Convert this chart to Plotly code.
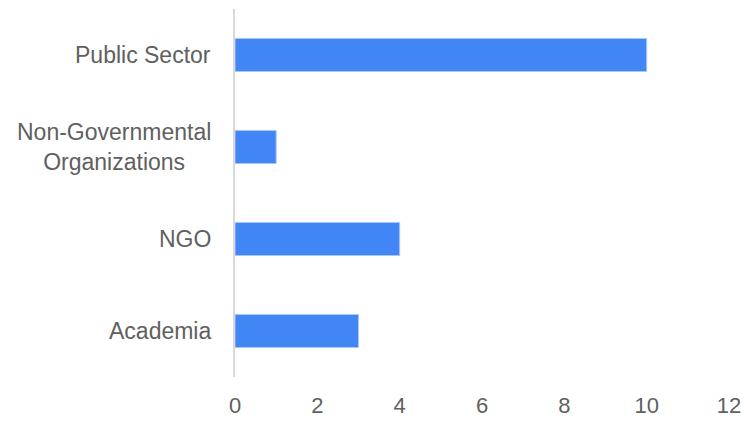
import plotly.graph_objects as go

categories = ["Public Sector", "Non-Governmental<br>Organizations", "NGO", "Academia"]
values = [10, 1, 4, 3]
x_ticks = [0, 2, 4, 6, 8, 10, 12]

FONT = "Liberation Sans, Arial, sans-serif"
TXT = "#606060"

fig = go.Figure()
fig.add_trace(go.Bar(
    y=categories, x=values, orientation="h",
    marker=dict(color="#4285F4", line=dict(color="#a8c7fa", width=1)),
    width=0.36,
))

for c in categories:
    fig.add_annotation(
        x=0, xref="paper", y=c, yref="y", text=c, showarrow=False,
        xanchor="right", yanchor="middle", align="center", xshift=-22,
        font=dict(family=FONT, size=23, color=TXT),
    )

fig.update_layout(
    width=744, height=421,
    margin=dict(l=235, r=15, t=9, b=44),
    paper_bgcolor="white", plot_bgcolor="white",
    showlegend=False,
    font=dict(family=FONT, size=22, color=TXT),
    xaxis=dict(range=[0, 12], tickvals=x_ticks, showgrid=False, zeroline=False,
               showline=False, ticks="", ticklabelstandoff=13, automargin=False,
               tickfont=dict(family=FONT, size=22, color=TXT), fixedrange=True),
    yaxis=dict(categoryorder="array", categoryarray=categories, autorange="reversed",
               showticklabels=False, showgrid=False, zeroline=False, automargin=False,
               showline=True, linecolor="#d9d9d9", linewidth=2, ticks="",
               fixedrange=True),
)

fig.write_html("out.html")
